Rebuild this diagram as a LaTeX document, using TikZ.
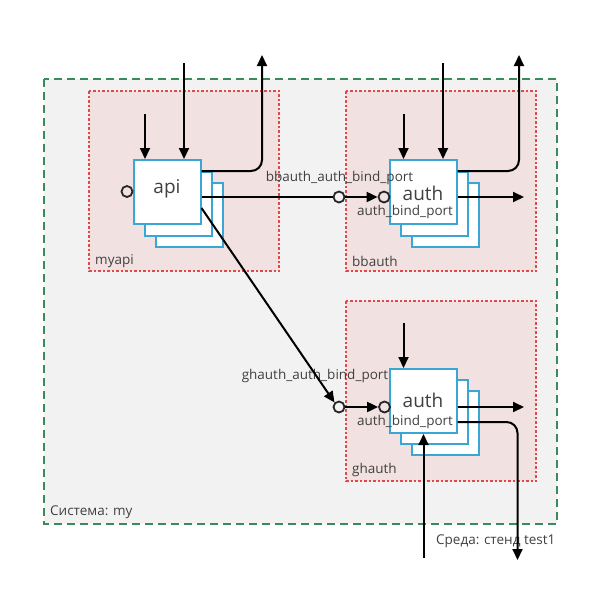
\documentclass[tikz,border=0pt]{standalone}
\usepackage{fontspec}
\setmainfont{Open Sans}
\usetikzlibrary{arrows.meta}
\definecolor{envgreen}{HTML}{3A8A5C}
\definecolor{sysgray}{HTML}{F2F2F2}
\definecolor{grpred}{HTML}{E0484A}
\definecolor{grppink}{HTML}{F2E1E1}
\definecolor{boxblue}{HTML}{3AA6D6}
\definecolor{txt}{HTML}{404040}
\begin{document}
\begin{tikzpicture}[x=1pt,y=-1pt,
  envbox/.style={draw=envgreen,line width=1.6pt,dash pattern=on 8pt off 5pt,fill=sysgray},
  grpbox/.style={draw=grpred,line width=1.2pt,dash pattern=on 2.5pt off 2pt,fill=grppink},
  inst/.style={draw=boxblue,line width=2pt,fill=white,minimum width=67pt,minimum height=64pt,inner sep=0pt},
  port/.style={circle,draw=black!85,line width=1.8pt,minimum size=11pt,inner sep=0pt},
  conn/.style={line width=2pt,-{Triangle[length=11pt,width=10pt]},rounded corners=11pt},
  plain/.style={line width=2pt,rounded corners=11pt},
  lbl/.style={text=txt,font=\fontsize{13.5}{15}\selectfont,inner sep=0pt},
  big/.style={text=txt,font=\fontsize{19}{21}\selectfont,inner sep=0pt}]
\useasboundingbox (0,0) rectangle (599,600);
\fill[white] (0,0) rectangle (599,600);
% environment / system
\draw[envbox] (44,79) rectangle (557,524);
\node[lbl,anchor=west] (sys) at (50,512) {Система: my};
% groups
\draw[grpbox] (89,91) rectangle (279,271);
\draw[grpbox] (346,91) rectangle (536,271);
\draw[grpbox] (346,301) rectangle (536,481);
\node[lbl,anchor=west] (gmyapi) at (95,261) {myapi};
\node[lbl,anchor=west] (gbbauth) at (352,261) {bbauth};
\node[lbl,anchor=west] (gghauth) at (352,470) {ghauth};
\node[lbl,anchor=west] (env) at (436,541) {Среда: стенд test1};
% api instances
\node[inst] (api3) at (189,215) {};
\node[inst] (api2) at (178,203.5) {};
\node[inst] (api) at (167,192) {};
\node[big] (apil) at (167,189) {api};
\node[port] (apiport) at (127,191.5) {};
% bbauth instances
\node[inst] (bb3) at (445,215) {};
\node[inst] (bb2) at (434,203.5) {};
\node[inst] (bb) at (423,192) {};
\node[big] (bbl) at (423,193) {auth};
\node[port] (bbext) at (339,197) {};
\node[port] (bbint) at (384,197) {};
\node[lbl] (bbextl) at (339.5,178) {bbauth\_auth\_bind\_port};
\node[lbl] (bbintl) at (405,212) {auth\_bind\_port};
% ghauth instances
\node[inst] (gh3) at (445,423) {};
\node[inst] (gh2) at (434,411.5) {};
\node[inst] (gh) at (423,401) {};
\node[big] (ghl) at (423,400) {auth};
\node[port] (ghext) at (339,407) {};
\node[port] (ghint) at (384.5,407) {};
\node[lbl] (ghextl) at (315,376) {ghauth\_auth\_bind\_port};
\node[lbl] (ghintl) at (405,422) {auth\_bind\_port};
% free ends
\coordinate (a1) at (145,114);
\coordinate (a2) at (184,63);
\coordinate (a3) at (262,55);
\coordinate (b1) at (403.5,114);
\coordinate (b2) at (443,63);
\coordinate (b3) at (519,55);
\coordinate (b4) at (524,197);
\coordinate (g1) at (403.5,323);
\coordinate (g4) at (524,407);
\coordinate (g5) at (517.5,560);
\coordinate (g6) at (423.5,558);
% api connectors
\draw[conn] (a1) -- (a1 |- api.north);
\draw[conn] (a2) -- (a2 |- api.north);
\draw[conn] (api.east |- 0,171) -| (a3);
\draw[plain] (api.east |- bbext) -- (bbext.west);
\draw[conn] (api.east |- 0,208) -- (ghext.north west);
% bbauth connectors
\draw[conn] (bbext.east) -- (bbint.west);
\draw[conn] (b1) -- (b1 |- bb.north);
\draw[conn] (b2) -- (b2 |- bb.north);
\draw[conn] (bb.east |- 0,171) -| (b3);
\draw[conn] (bb.east |- b4) -- (b4);
% ghauth connectors
\draw[conn] (ghext.east) -- (ghint.west);
\draw[conn] (g1) -- (g1 |- gh.north);
\draw[conn] (gh.east |- g4) -- (g4);
\draw[conn] (gh.east |- 0,422) -| (g5);
\draw[conn] (g6) -- (g6 |- gh.south);
\end{tikzpicture}
\end{document}
